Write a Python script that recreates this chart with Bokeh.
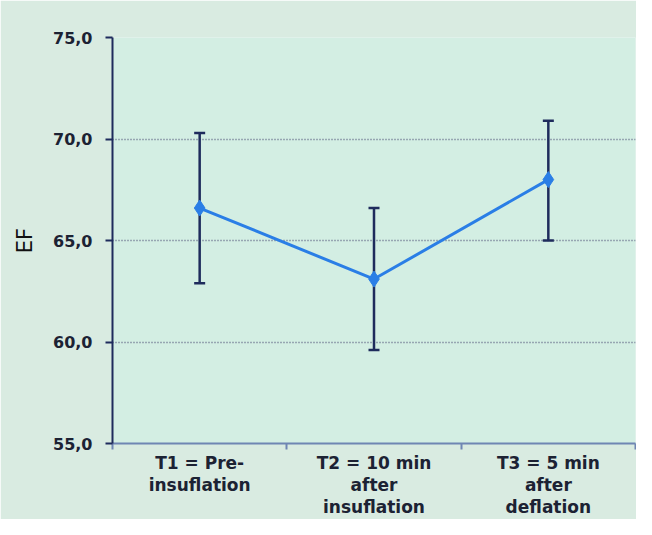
from bokeh.plotting import figure
from bokeh.models import FixedTicker, Whisker, ColumnDataSource, Range1d
from bokeh.embed import file_html
from bokeh.resources import INLINE

categories = ["T1 = Pre-\ninsuflation",
              "T2 = 10 min\nafter\ninsuflation",
              "T3 = 5 min\nafter\ndeflation"]
cat_pos = [0.5, 1.5, 2.5]
cat_bounds = [0, 1, 2, 3]
ef_mean = [66.6, 63.1, 68.0]
ef_upper = [70.3, 66.6, 70.9]
ef_lower = [62.9, 59.6, 65.0]
y_ticks = [55, 60, 65, 70, 75]
y_tick_labels = ["55,0", "60,0", "65,0", "70,0", "75,0"]

FONT = "DejaVu Sans"

p = figure(width=636, height=519, output_backend="svg", toolbar_location=None,
           x_range=Range1d(0, 3), y_range=Range1d(55, 75),
           min_border_left=112, min_border_right=1, min_border_top=37,
           min_border_bottom=69)
p.background_fill_color = "#d3eee3"
p.border_fill_color = "#d9ebe1"
p.outline_line_color = None

src = ColumnDataSource(dict(x=cat_pos, m=ef_mean, up=ef_upper, lo=ef_lower))

p.line("x", "m", source=src, line_color="#2a7ee6", line_width=3)
w = Whisker(base="x", upper="up", lower="lo", source=src,
            line_color="#1e2b5c", line_width=2.5)
for h in (w.upper_head, w.lower_head):
    h.line_color = "#1e2b5c"
    h.line_width = 2.5
    h.size = 11
p.add_layout(w)
p.scatter("x", "m", source=src, marker="diamond", size=16,
          fill_color="#2a7ee6", line_color="#2a7ee6")

# y axis
p.yaxis.ticker = FixedTicker(ticks=y_ticks)
p.yaxis.major_label_overrides = dict(zip(y_ticks, y_tick_labels))
p.yaxis.axis_line_color = "#1e2b5c"
p.yaxis.axis_line_width = 2
p.yaxis.major_tick_line_color = "#1e2b5c"
p.yaxis.major_tick_line_width = 2
p.yaxis.major_tick_out = 7
p.yaxis.major_tick_in = 0
p.yaxis.minor_tick_line_color = None
p.yaxis.major_label_text_font = FONT
p.yaxis.major_label_text_font_style = "bold"
p.yaxis.major_label_text_font_size = "16px"
p.yaxis.major_label_text_color = "#1c2233"
p.yaxis.major_label_standoff = 13
p.yaxis.axis_label = "EF"
p.yaxis.axis_label_text_font = FONT
p.yaxis.axis_label_text_font_style = "normal"
p.yaxis.axis_label_text_font_size = "21px"
p.yaxis.axis_label_text_color = "#111111"
p.yaxis.axis_label_standoff = 13

# x axis
p.xaxis.ticker = FixedTicker(ticks=cat_pos, minor_ticks=cat_bounds)
p.xaxis.major_label_overrides = dict(zip(cat_pos, categories))
p.xaxis.axis_line_color = "#6f86b3"
p.xaxis.axis_line_width = 2
p.xaxis.major_tick_line_color = None
p.xaxis.minor_tick_line_color = "#6f86b3"
p.xaxis.minor_tick_line_width = 2
p.xaxis.minor_tick_out = 6
p.xaxis.minor_tick_in = 0
p.xaxis.major_tick_out = 6
p.xaxis.major_label_text_font = FONT
p.xaxis.major_label_text_font_style = "bold"
p.xaxis.major_label_text_font_size = "17px"
p.xaxis.major_label_text_color = "#1c2233"
p.xaxis.major_label_standoff = 3
p.xaxis.major_label_text_line_height = 1.1

p.xgrid.grid_line_color = None
p.ygrid.ticker = FixedTicker(ticks=y_ticks)
p.ygrid.grid_line_color = "#5a5f80"
p.ygrid.grid_line_width = 1.5
p.ygrid.grid_line_dash = "1 2"

open("out.html", "w").write(file_html(p, INLINE))
